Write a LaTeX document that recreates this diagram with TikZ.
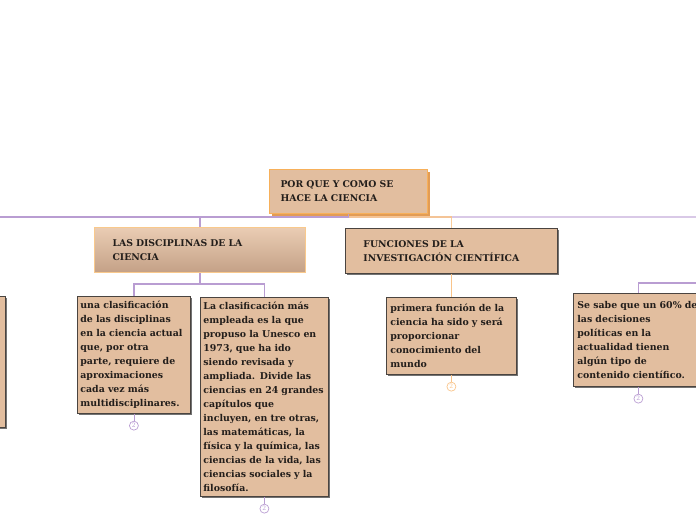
\documentclass[tikz,border=0pt]{standalone}
\usepackage{fontspec}
\setmainfont{DejaVu Serif}
\usetikzlibrary{positioning,shadows}
\definecolor{boxtan}{HTML}{E2BE9F}
\definecolor{rootedge}{HTML}{F7B05A}
\definecolor{rootshade}{HTML}{E29C55}
\definecolor{discedge}{HTML}{F9C98C}
\definecolor{disctop}{HTML}{EACDB3}
\definecolor{discbottom}{HTML}{C4A086}
\definecolor{greyedge}{HTML}{4A4440}
\definecolor{inkbrown}{HTML}{231E1B}
\definecolor{lilac}{HTML}{B99DD2}
\definecolor{palelilac}{HTML}{D9C9E7}
\definecolor{peach}{HTML}{F9C48A}

\begin{document}
\begin{tikzpicture}[
  x=1pt, y=-1pt,
  headbox/.style={anchor=north west, align=left, inner ysep=0pt, text=inkbrown,
    font=\fontsize{9.3}{14}\selectfont\bfseries},
  rootbox/.style={headbox, draw=rootedge, line width=1pt, fill=boxtan,
    drop shadow={shadow xshift=2pt, shadow yshift=-2pt, fill=rootshade, opacity=1}},
  discbox/.style={headbox, draw=discedge, line width=1pt, top color=disctop, bottom color=discbottom},
  funcbox/.style={headbox, draw=greyedge, line width=0.8pt, fill=boxtan,
    drop shadow={shadow xshift=2pt, shadow yshift=-2pt, fill=black!55, opacity=1}},
  textbox/.style={anchor=north west, align=left, draw=greyedge, line width=0.8pt, fill=boxtan,
    inner ysep=0pt, text=inkbrown, font=\fontsize{9.4}{14}\selectfont\bfseries,
    drop shadow={shadow xshift=2pt, shadow yshift=-2pt, fill=black!55, opacity=1}},
  badge/.style={circle, draw=lilac, line width=0.7pt, inner sep=0pt, minimum size=9pt,
    text=lilac, font=\fontsize{6}{6}\selectfont},
  link/.style={draw=lilac, line width=1.2pt}
]
\useasboundingbox (0,0) rectangle (696,520);

\coordinate (edgeW) at (0,217);
\coordinate (edgeE) at (700,217);
\coordinate (edgeE2) at (700,283);

\node[rootbox, inner xsep=11pt, text width=136pt, minimum height=44pt] (root) at (269,169)
  {POR QUE Y COMO SE\\HACE LA CIENCIA};
\node[discbox, inner xsep=18pt, text width=175pt, minimum height=45pt] (disc) at (94,227)
  {LAS DISCIPLINAS DE LA\\CIENCIA};
\node[funcbox, inner xsep=18pt, text width=176pt, minimum height=45pt] (func) at (345,228)
  {FUNCIONES DE LA\\INVESTIGACIÓN CIENTÍFICA};

\node[textbox, minimum width=25pt, minimum height=131pt] (left) at (-20,296) {};
\node[textbox, inner xsep=3pt, text width=107pt, minimum height=117pt] (b1) at (77,296)
  {una clasificación\\de las disciplinas\\en la ciencia actual\\que, por otra\\parte, requiere de\\aproximaciones\\cada vez más\\multidisciplinares.};
\node[textbox, inner xsep=3pt, text width=122pt, minimum height=199pt] (b2) at (200,297)
  {La clasificación más\\empleada es la que\\propuso la Unesco en\\1973, que ha ido\\siendo revisada y\\ampliada. Divide las\\ciencias en 24 grandes\\capítulos que\\incluyen, en tre otras,\\las matemáticas, la\\física y la química, las\\ciencias de la vida, las\\ciencias sociales y la\\filosofía.};
\node[textbox, inner xsep=4pt, text width=122pt, minimum height=77pt] (b3) at (386,297)
  {primera función de la\\ciencia ha sido y será\\proporcionar\\conocimiento del\\mundo};
\node[textbox, inner xsep=4pt, text width=122pt, minimum height=93pt] (b4) at (573,293)
  {Se sabe que un 60\% de\\las decisiones\\políticas en la\\actualidad tienen\\algún tipo de\\contenido científico.};

\node[badge, below=7pt of b1] (n1) {2};
\node[badge, below=7pt of b2] (n2) {2};
\node[badge, below=7pt of b3, draw=peach, text=peach] (n3) {2};
\node[badge, below=7pt of b4] (n4) {2};

\draw[link, draw=palelilac] (root.south) ++(0,3) -- (edgeE);
\draw[link, draw=peach, opacity=0.85] (root.south) ++(0,3) -| (func.north);
\draw[link] (root.south) -- ++(0,3) -| (disc.north);
\draw[link] (root.south) ++(0,3) -- (edgeW);
\draw[link] (disc.south) -- ++(0,11) -| (b1.north);
\draw[link] (disc.south) -- ++(0,11) -| (b2.north);
\draw[link, draw=peach] (func.south) -- (b3.north);
\draw[link] (b4.north) |- (edgeE2);

\draw[link, line width=0.8pt] (b1.south) -- (n1);
\draw[link, line width=0.8pt] (b2.south) -- (n2);
\draw[link, line width=0.8pt, draw=peach] (b3.south) -- (n3);
\draw[link, line width=0.8pt] (b4.south) -- (n4);

\end{tikzpicture}
\end{document}
